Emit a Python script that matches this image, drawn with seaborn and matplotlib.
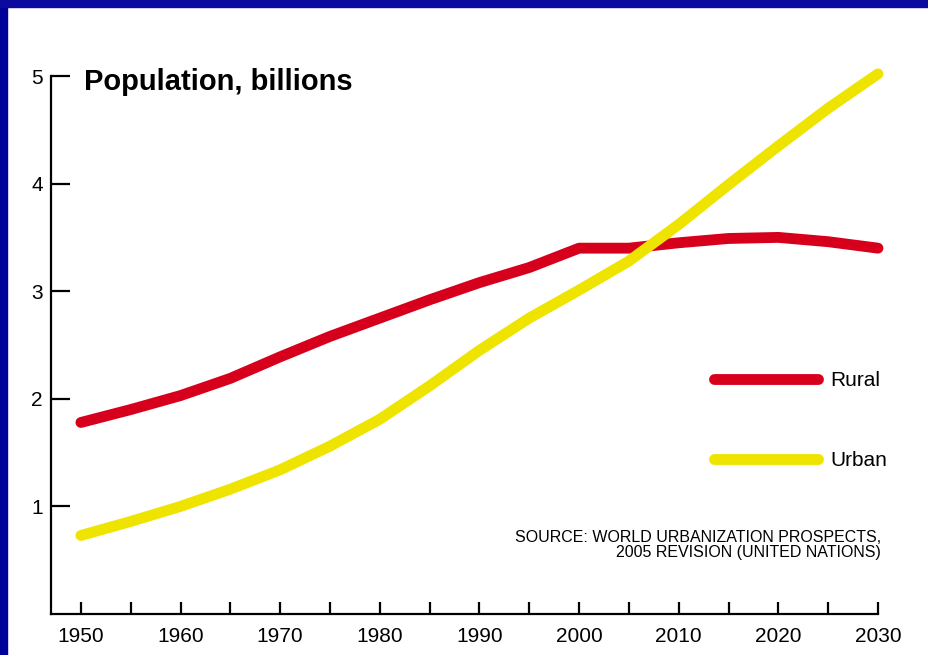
import pandas as pd
import matplotlib.pyplot as plt
import seaborn as sns
from matplotlib.patches import Rectangle

#values (billions)
years = [1950, 1955, 1960, 1965, 1970, 1975, 1980, 1985, 1990,
         1995, 2000, 2005, 2010, 2015, 2020, 2025, 2030]
rural = [1.78, 1.90, 2.03, 2.19, 2.39, 2.58, 2.75, 2.92, 3.08,
         3.22, 3.40, 3.40, 3.45, 3.49, 3.50, 3.46, 3.40]
urban = [0.73, 0.86, 1.00, 1.16, 1.34, 1.56, 1.81, 2.12, 2.45,
         2.75, 3.01, 3.28, 3.62, 3.99, 4.35, 4.70, 5.02]
series_names = ['Rural', 'Urban']
series_colors = ['#D7001C', '#EEE400']
x_ticks = list(range(1950, 2031, 5))
x_labels = [str(y) if y % 10 == 0 else '' for y in x_ticks]
y_ticks = [1, 2, 3, 4, 5]
y_labels = ['1', '2', '3', '4', '5']

data = pd.DataFrame({
    'Year': years * 2,
    'Population': rural + urban,
    'Area': ['Rural'] * len(years) + ['Urban'] * len(years),
})

sns.set_theme(style='white')
plt.rcParams['font.family'] = ['Liberation Sans', 'DejaVu Sans']
plt.rcParams['text.color'] = 'black'

fig = plt.figure(figsize=(9.29, 6.55), dpi=100)
fig.patch.set_facecolor('white')

#blue slide border on the left and top
fig.add_artist(Rectangle((0, 0), 7 / 929, 1, transform=fig.transFigure,
                         color='#00009A', zorder=0))
fig.add_artist(Rectangle((0, 1 - 7 / 655), 1, 7 / 655, transform=fig.transFigure,
                         color='#0A0A9E', zorder=0))

ax = fig.add_axes([51 / 929, 41 / 655, 827 / 929, 538 / 655])
ax.set_facecolor('white')

sns.lineplot(
    data=data, x='Year', y='Population', hue='Area',
    hue_order=series_names, palette=series_colors,
    linewidth=7.8, solid_capstyle='round', solid_joinstyle='round', ax=ax,
)
for line in ax.lines:
    line.set_clip_on(False)

ax.set_xlim(1947, 2030)
ax.set_ylim(0, 5)
ax.set_xticks(x_ticks)
ax.set_xticklabels(x_labels, fontsize=15)
ax.set_yticks(y_ticks)
ax.set_yticklabels(y_labels, fontsize=15)
ax.set_xlabel('')
ax.set_ylabel('')

sns.despine(ax=ax)
for side in ['left', 'bottom']:
    ax.spines[side].set_color('black')
    ax.spines[side].set_linewidth(1.6)
ax.tick_params(axis='x', direction='in', length=9, width=1.6, color='black',
               bottom=True, pad=9, labelcolor='black')
ax.tick_params(axis='y', direction='in', length=14, width=1.6, color='black',
               left=True, pad=6, labelcolor='black')

#legend on the right, no frame
sns.move_legend(
    ax, 'upper left', bbox_to_anchor=(714 / 929, 1 - 371 / 655),
    bbox_transform=fig.transFigure, title=None, frameon=False,
    fontsize=15, handlelength=5.0, handletextpad=0.6,
    labelspacing=2.95, borderpad=0, borderaxespad=0,
)
for txt in ax.get_legend().get_texts():
    txt.set_color('black')

#title inside the plot
fig.text(84 / 929, 1 - 82 / 655, 'Population, billions', fontsize=21,
         fontweight='bold', ha='left', va='center', color='black')

#source note
fig.text(881 / 929, 1 - 545 / 655,
         'SOURCE: WORLD URBANIZATION PROSPECTS,\n2005 REVISION (UNITED NATIONS)',
         fontsize=11.5, ha='right', va='center', multialignment='right',
         color='black', linespacing=1.05)

plt.savefig('out.png', dpi=100)
